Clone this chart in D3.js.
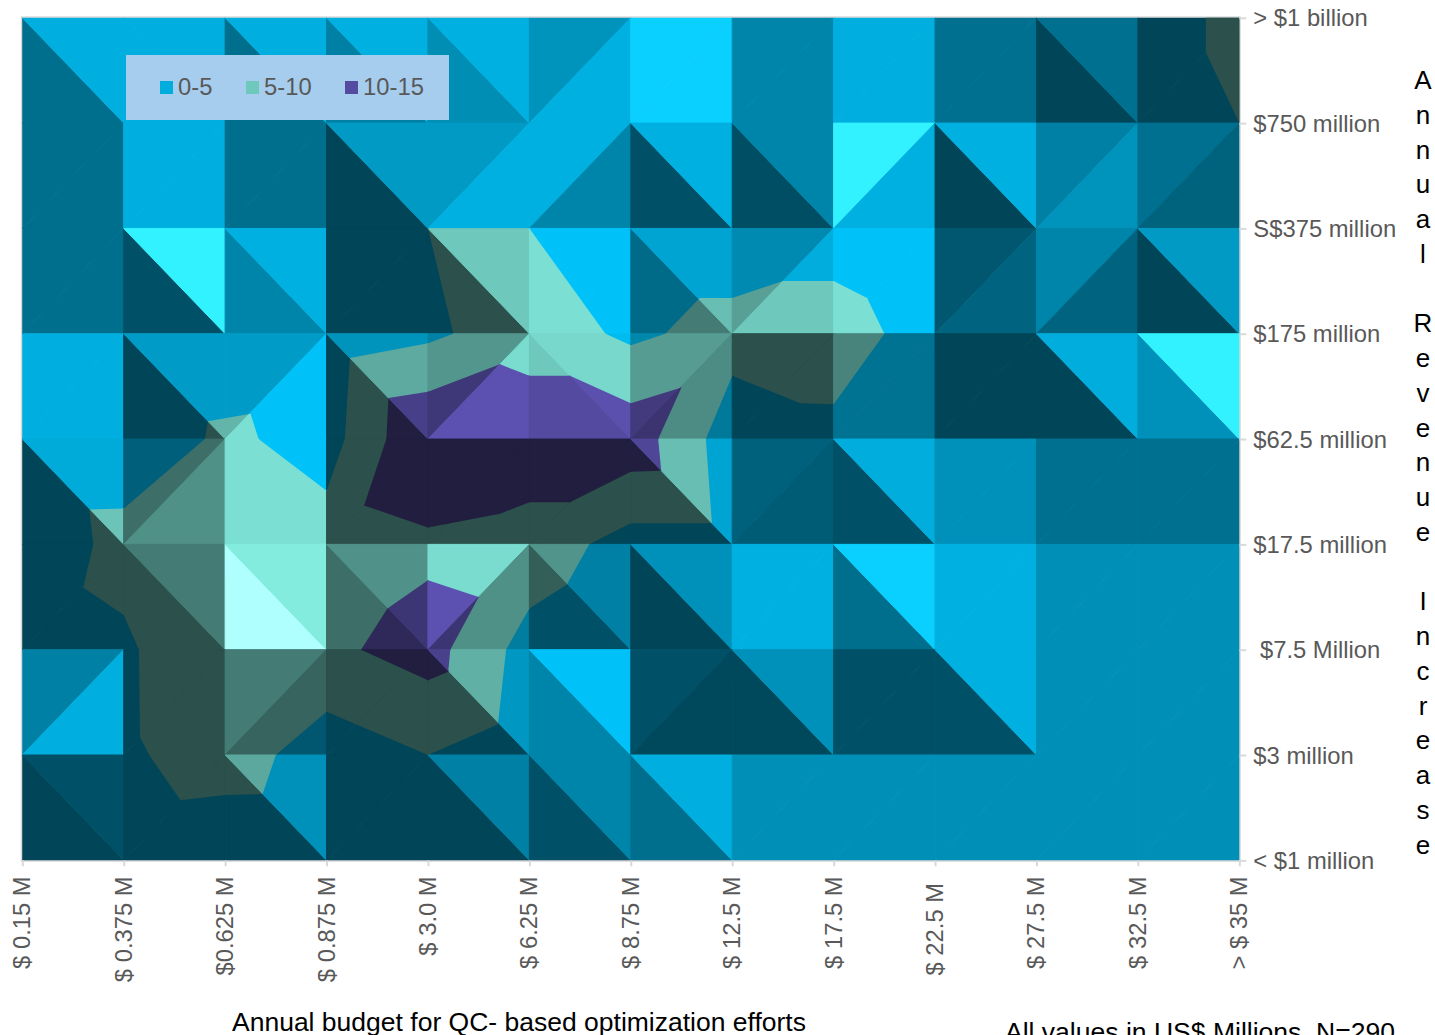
<!DOCTYPE html>
<html>
<head>
<meta charset="utf-8">
<script src="https://d3js.org/d3.v7.min.js"></script>
<style>
html,body{margin:0;padding:0;background:#fff;overflow:hidden}
svg{display:block}
text{font-family:"Liberation Sans",Arial,sans-serif;white-space:pre}
</style>
</head>
<body>
<svg id="c" width="1435" height="1035"></svg>
<script>
// Category axes
const budgetLabels = ["$ 0.15 M","$ 0.375 M","$0.625 M","$ 0.875 M","$ 3.0 M","$ 6.25 M","$ 8.75 M","$ 12.5 M","$ 17.5 M","$ 22.5 M ","$ 27.5 M","$ 32.5 M","> $ 35 M"];
const revenueLabels = ["> $1 billion","$750 million","S$375 million","$175 million","$62.5 million","$17.5 million"," $7.5 Million","$3 million","< $1 million"];
const bandNames = ["0-5","5-10","10-15"];

// Facet diagonal for each cell: b = "\" and f = "/"
const diagonals = [
 "bbbbbfffffbf",
 "fffbffbbfbff",
 "fbbfbbbffffb",
 "fbfbfbffffbb",
 "bfffffbfbfff",
 "fbbbfbbfbfff",
 "ffffbbfbfbff",
 "bfbfbbbfffff"
];
// Surface facet shade, left triangle of each cell
const shadeLeft = [
 [.64,1.01,.64,.74,.82,.85,1.2,.77,1.01,.65,.4,.4],
 [.64,1.01,.64,.4,.89,1.02,.47,.45,1.4,.4,.74,.65],
 [.64,.47,.77,.4,.4,1.12,.62,.8,1.12,.5,.77,.4],
 [1.01,.4,.9,.4,.75,1,.78,.4,.66,.4,.4,.84],
 [.4,.55,1.12,.4,.4,.4,.4,.56,.47,.84,.65,.65],
 [.4,.4,1.45,.55,1.1,.47,.4,1.02,.64,1.02,.83,.83],
 [.74,.4,.62,.4,.4,.77,.47,.42,.47,.47,.83,.83],
 [.4,.4,.4,.4,.4,.47,.64,.83,.83,.83,.83,.83]
];
// Surface facet shade, right triangle of each cell
const shadeRight = [
 [1.01,1.01,1.01,1.02,1.02,1.02,1.2,.77,1.01,.65,.65,.4],
 [.64,1.01,.64,.89,1.02,.77,1.02,.77,1.02,1.02,.85,.57],
 [.64,1.4,1.02,.4,1,1.12,.95,1,1.12,.58,.58,.89],
 [1.01,.9,1.12,.85,1.1,1.08,.7,.4,.66,.4,1,1.4],
 [.98,.72,1.12,.4,.4,.4,.95,.53,1,.84,.65,.65],
 [.4,.62,1.18,.73,.72,.74,.84,1.02,1.2,1.02,.83,.83],
 [1.01,.4,.5,.4,.88,1.12,.42,.84,.47,1.02,.83,.83],
 [.47,.4,.84,.4,.74,.77,1.01,.83,.83,.83,.83,.83]
];
// Contour outlines as [budget index, revenue index from the top]
const contour5 = [
 [[4,2],[5,2],[5.75,3],[6,3.11],[6.34,3],[6.68,2.66],[7,2.66],[7.5,2.5],[8,2.5],[8.33,2.66],[8.5,3],[8,3.67],[7.67,3.66],[7,3.4],[6.74,4],[6.8,4.8],[6,4.8],[5.59,5],[5.37,5.38],[5,5.61],[4.77,6],[4.69,6.71],[4,7],[3,6.59],[2.5,7],[2.37,7.37],[2,7.38],[1.56,7.43],[1.25,7],[1.16,6.83],[1.15,6],[1,5.67],[.6,5.41],[.7,5],[.66,4.67],[1,4.66],[1.8,4],[1.83,3.83],[2.25,3.76],[2.33,4],[3,4.49],[3.18,4],[3.23,3.23],[4,3.09],[4.25,3]],
 [[11.67,0],[11.67,.33],[12,1],[12,0]]
];
const contour10 = [
 [[3.61,3.61],[4,3.55],[4.71,3.29],[5,3.4],[5.4,3.4],[6,3.66],[6.5,3.51],[6.27,4],[6.3,4.3],[6,4.31],[5.4,4.6],[5,4.6],[4.71,4.71],[4,4.84],[3.37,4.63],[3.59,4]],
 [[4,5.34],[4.5,5.5],[4.22,6],[4.2,6.21],[4,6.29],[3.34,6],[3.6,5.61]]
];

const plot = {l:22.3, r:1239.3, t:17.8, b:860.3};
const bandRGB = [[0,173,221,200],[110,200,188,53],[84,74,160,0]];
const colour = (band, s) => {
  const [r,g,b,lift] = bandRGB[band];
  const c = v => Math.max(0, Math.min(255, Math.round(v)));
  return `rgb(${c(r*s + Math.max(0,s-1.15)*lift)},${c(g*s)},${c(b*s)})`;
};

const svg = d3.select("#c");
const gx = d3.scaleLinear().domain([0,12]).range([plot.l, plot.r]);
const gy = d3.scaleLinear().domain([0,8]).range([plot.t, plot.b]);
const xAxisScale = d3.scalePoint().domain(budgetLabels).range([plot.l, plot.r]);
const yAxisScale = d3.scalePoint().domain(revenueLabels).range([plot.t, plot.b]);

// Triangular facets
const facets = [];
diagonals.forEach((row, j) => row.split("").forEach((d, i) => {
  const A=[i,j],B=[i+1,j],C=[i+1,j+1],D=[i,j+1];
  if (d === "b") {
    facets.push({pts:[A,D,C], s:shadeLeft[j][i]});
    facets.push({pts:[A,B,C], s:shadeRight[j][i]});
  } else {
    facets.push({pts:[D,A,B], s:shadeLeft[j][i]});
    facets.push({pts:[D,C,B], s:shadeRight[j][i]});
  }
}));
const poly = pts => pts.map(p => gx(p[0]) + "," + gy(p[1])).join(" ");

// Frame
svg.append("rect").attr("x",plot.l).attr("y",plot.t)
  .attr("width",plot.r-plot.l).attr("height",plot.b-plot.t)
  .attr("fill","none").attr("stroke","#d9d9d9").attr("stroke-width",3);

// Clip regions for the bands
const defs = svg.append("defs");
defs.append("clipPath").attr("id","plotClip").append("rect")
  .attr("x",plot.l).attr("y",plot.t).attr("width",plot.r-plot.l).attr("height",plot.b-plot.t);
[null, contour5, contour10].forEach((rings, band) => {
  if (!rings) return;
  defs.append("clipPath").attr("id","band"+band)
    .selectAll("polygon").data(rings).join("polygon")
    .attr("points", poly);
});
[0,1,2].forEach(band => {
  const g = svg.append("g").attr("clip-path", band > 0 ? `url(#band${band})` : "url(#plotClip)");
  g.selectAll("polygon").data(facets).join("polygon")
    .attr("points", d => poly(d.pts))
    .attr("fill", d => colour(band, d.s))
    .attr("stroke", d => colour(band, d.s))
    .attr("stroke-width", 1)
    .attr("stroke-linejoin","round");
});

// Axes
const styleAxis = g => {
  g.select(".domain").remove();
  g.selectAll("line").attr("stroke","#d9d9d9").attr("stroke-width",2);
  g.selectAll("text").attr("fill","#595959").attr("font-size",23.8)
    .style("font-family",'"Liberation Sans",Arial,sans-serif');
};
const xG = svg.append("g").attr("transform",`translate(0,${plot.b})`)
  .call(d3.axisBottom(xAxisScale).tickSize(6).tickPadding(0));
xG.call(styleAxis);
xG.selectAll("text")
  .attr("text-anchor","end").attr("dy",null)
  .attr("transform","translate(-1,16) rotate(-90)")
  .attr("x",0).attr("y",0).attr("dominant-baseline","central");

const yG = svg.append("g").attr("transform",`translate(${plot.r},0)`)
  .call(d3.axisRight(yAxisScale).tickSize(7).tickPadding(7));
yG.call(styleAxis);
yG.selectAll("text").attr("text-anchor","start").attr("dy","0.34em");

// Legend
const legend = svg.append("g");
legend.append("rect").attr("x",126).attr("y",55).attr("width",323).attr("height",65).attr("fill","#a6cdee");
const legendX = d3.scaleOrdinal().domain(bandNames).range([160,246,345]);
bandNames.forEach((n,k) => {
  legend.append("rect").attr("x",legendX(n)).attr("y",81).attr("width",13).attr("height",13).attr("fill",colour(k,1));
  legend.append("text").attr("x",legendX(n)+18).attr("y",95).attr("font-size",23.8).attr("fill","#595959").text(n);
});

// Titles
const axisTitle = "Annual Revenue Increase";
const letterY = d3.scaleLinear().domain([0,axisTitle.length-1]).range([89,853.5]);
svg.append("g").selectAll("text").data(axisTitle.split("")).join("text")
  .attr("x",1423).attr("y",(d,i)=>letterY(i)).attr("text-anchor","middle")
  .attr("font-size",26).attr("fill","#000").text(d=>d);
svg.append("text").attr("x",232).attr("y",1030.5).attr("font-size",25.5).attr("fill","#000")
  .attr("textLength",574).attr("lengthAdjust","spacingAndGlyphs")
  .text("Annual budget for QC- based optimization efforts");
svg.append("text").attr("x",1005).attr("y",1041).attr("font-size",25.5).attr("fill","#000")
  .attr("textLength",390).attr("lengthAdjust","spacingAndGlyphs")
  .text("All values in US$ Millions. N=290");
</script>
</body>
</html>
